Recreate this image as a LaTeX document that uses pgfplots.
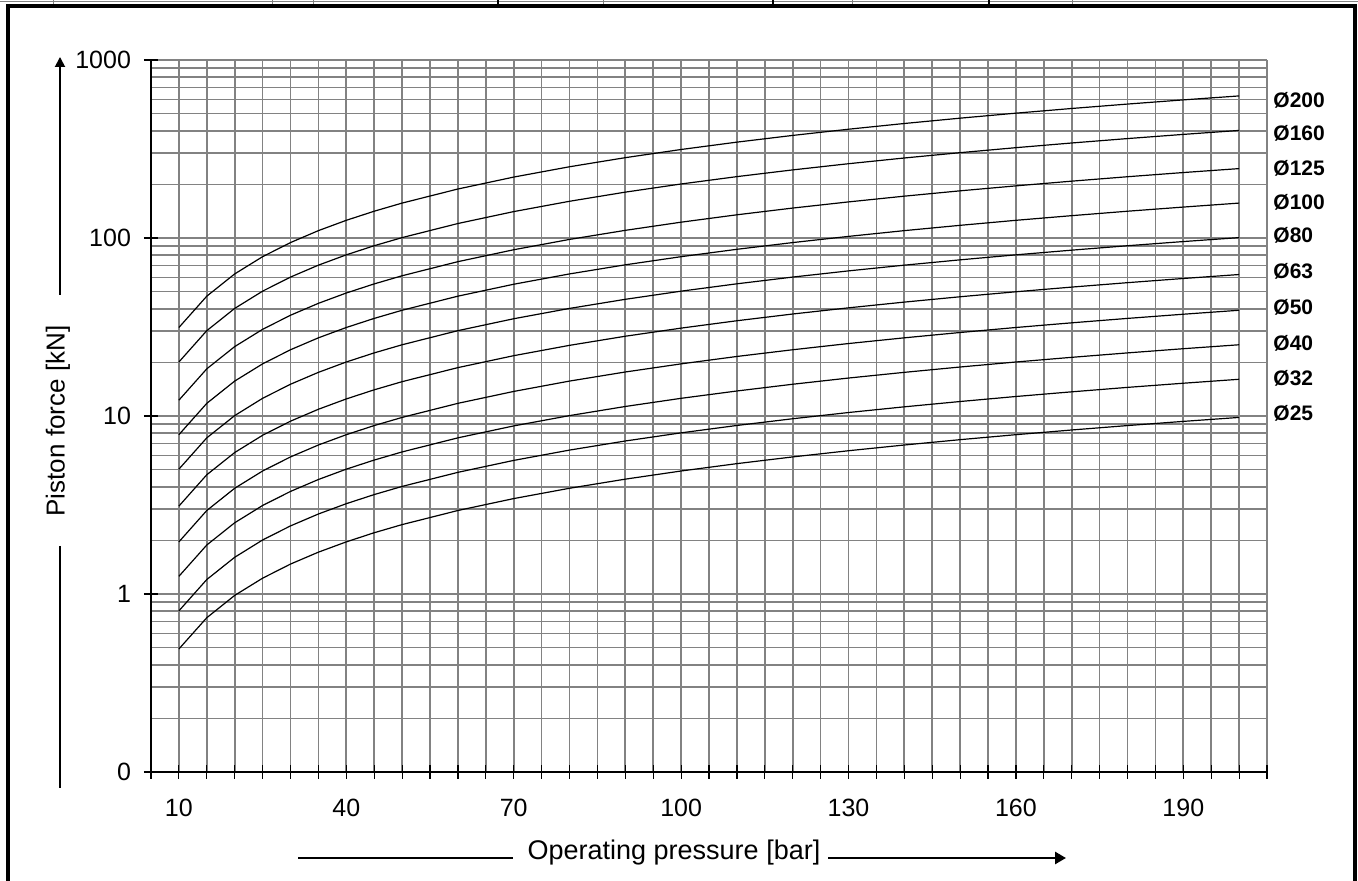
\documentclass[border=0pt]{standalone}
\usepackage{fontspec}
\setmainfont{Liberation Sans}
\usepackage{pgfplots}
\pgfplotsset{compat=1.18}
\usepackage{pgfplotstable}
\usetikzlibrary{arrows.meta}

% piston force [kN], per bore
\pgfplotstableread{
p   d25   d32   d40   d50   d63   d80   d100  d125  d160  d200
10  0.491 0.804 1.257 1.963 3.117 5.027 7.854 12.27 20.11 31.42
15  0.736 1.206 1.885 2.945 4.676 7.540 11.78 18.41 30.16 47.12
20  0.982 1.608 2.513 3.927 6.234 10.05 15.71 24.54 40.21 62.83
25  1.227 2.011 3.142 4.909 7.793 12.57 19.63 30.68 50.27 78.54
30  1.473 2.413 3.770 5.890 9.352 15.08 23.56 36.82 60.32 94.25
35  1.718 2.815 4.398 6.872 10.91 17.59 27.49 42.95 70.37 110.0
40  1.963 3.217 5.027 7.854 12.47 20.11 31.42 49.09 80.42 125.7
45  2.209 3.619 5.655 8.836 14.03 22.62 35.34 55.22 90.48 141.4
50  2.454 4.021 6.283 9.817 15.59 25.13 39.27 61.36 100.5 157.1
60  2.945 4.825 7.540 11.78 18.70 30.16 47.12 73.63 120.6 188.5
70  3.436 5.630 8.796 13.74 21.82 35.19 54.98 85.90 140.7 219.9
80  3.927 6.434 10.05 15.71 24.94 40.21 62.83 98.17 160.8 251.3
90  4.418 7.238 11.31 17.67 28.06 45.24 70.69 110.4 181.0 282.7
100 4.909 8.042 12.57 19.63 31.17 50.27 78.54 122.7 201.1 314.2
110 5.400 8.847 13.82 21.60 34.29 55.29 86.39 135.0 221.2 345.6
120 5.890 9.651 15.08 23.56 37.41 60.32 94.25 147.3 241.3 377.0
130 6.381 10.46 16.34 25.53 40.52 65.35 102.1 159.5 261.4 408.4
140 6.872 11.26 17.59 27.49 43.64 70.37 110.0 171.8 281.5 439.8
150 7.363 12.06 18.85 29.45 46.76 75.40 117.8 184.1 301.6 471.2
160 7.854 12.87 20.11 31.42 49.88 80.42 125.7 196.3 321.7 502.7
170 8.345 13.67 21.36 33.38 52.99 85.45 133.5 208.6 341.8 534.1
180 8.836 14.48 22.62 35.34 56.11 90.48 141.4 220.9 361.9 565.5
190 9.327 15.28 23.88 37.31 59.23 95.50 149.2 233.2 382.0 596.9
200 9.817 16.08 25.13 39.27 62.35 100.5 157.1 245.4 402.1 628.3
}\forcetable

\definecolor{gridgray}{RGB}{130,130,130}

\begin{document}
\begin{tikzpicture}
% frame and outside labels, in pixel units of the 1358x881 sheet
\begin{scope}[shift={(-75.5pt,386pt)},x=0.5pt,y=-0.5pt]
  \useasboundingbox (0,0) rectangle (1358,881);
  \draw[gridgray,line width=0.5pt] (0,1.5) -- (1358,1.5);
  \foreach \xx in {54,272,313,603,852,1072}
    \draw[gridgray,line width=0.5pt] (\xx,0) -- (\xx,5);
  \foreach \xx in {498,773,989}
    \draw[black,line width=1.2pt] (\xx,0) -- (\xx,5);
  \draw[black,line width=2pt] (6,6) -- (1357,6);
  \draw[black,line width=2pt] (8,4) -- (8,881);
  \draw[black,line width=2pt] (1355,4) -- (1355,881);

  \node[rotate=90,font=\fontsize{13}{16}\selectfont] at (58,421) {Piston force [kN]};
  \draw[line width=0.9pt,-{Triangle[length=5pt,width=5pt]}] (60,295) -- (60,57);
  \draw[line width=0.7pt] (60,546) -- (60,788);

  \node[font=\fontsize{13.5}{16}\selectfont] at (674,853) {Operating pressure [bar]};
  \draw[line width=0.6pt] (298,858) -- (513,858);
  \draw[line width=1.3pt,-{Triangle[length=5.5pt,width=6pt]}] (828,858) -- (1066,858);

  \foreach \yy/\lab in {100/200,133/160,168/125,202/100,235/80,271/63,307/50,343/40,378/32,413/25}
    \node[anchor=west,inner sep=0pt,font=\bfseries\fontsize{10.5}{12}\selectfont] at (1273,\yy) {Ø\lab};
\end{scope}

\begin{axis}[
    at={(0,0)}, anchor=south west,
    scale only axis,
    width=558pt, height=356pt,
    xmin=5, xmax=205,
    ymode=log, ymin=0.1, ymax=1000,
    axis lines*=left,
    axis line style={black, line width=0.6pt},
    xtick={10,40,...,190},
    minor xtick={5,10,...,205},
    ytick={0.1,1,10,100,1000},
    yticklabels={0,1,10,100,1000},
    minor ytick={0.2,0.3,0.4,0.5,0.6,0.7,0.8,0.9,2,3,4,5,6,7,8,9,20,30,40,50,60,70,80,90,200,300,400,500,600,700,800,900},
    grid=both,
    major grid style={gridgray, line width=0.85pt},
    minor grid style={gridgray, line width=0.85pt},
    tick align=center,
    major tick length=7pt,
    minor tick length=7pt,
    tick style={black, line width=0.6pt},
    minor y tick style={draw=none},
    ticklabel style={font=\fontsize{12.5}{15}\selectfont},
    xticklabel style={yshift=-6.5pt},
    yticklabel style={xshift=-3pt},
    /pgf/number format/assume math mode=true,
]
\addplot[black, line width=0.6pt] table[x=p, y=d25] {\forcetable};
\addplot[black, line width=0.6pt] table[x=p, y=d32] {\forcetable};
\addplot[black, line width=0.6pt] table[x=p, y=d40] {\forcetable};
\addplot[black, line width=0.6pt] table[x=p, y=d50] {\forcetable};
\addplot[black, line width=0.6pt] table[x=p, y=d63] {\forcetable};
\addplot[black, line width=0.6pt] table[x=p, y=d80] {\forcetable};
\addplot[black, line width=0.6pt] table[x=p, y=d100] {\forcetable};
\addplot[black, line width=0.6pt] table[x=p, y=d125] {\forcetable};
\addplot[black, line width=0.6pt] table[x=p, y=d160] {\forcetable};
\addplot[black, line width=0.6pt] table[x=p, y=d200] {\forcetable};
\end{axis}
\end{tikzpicture}
\end{document}
